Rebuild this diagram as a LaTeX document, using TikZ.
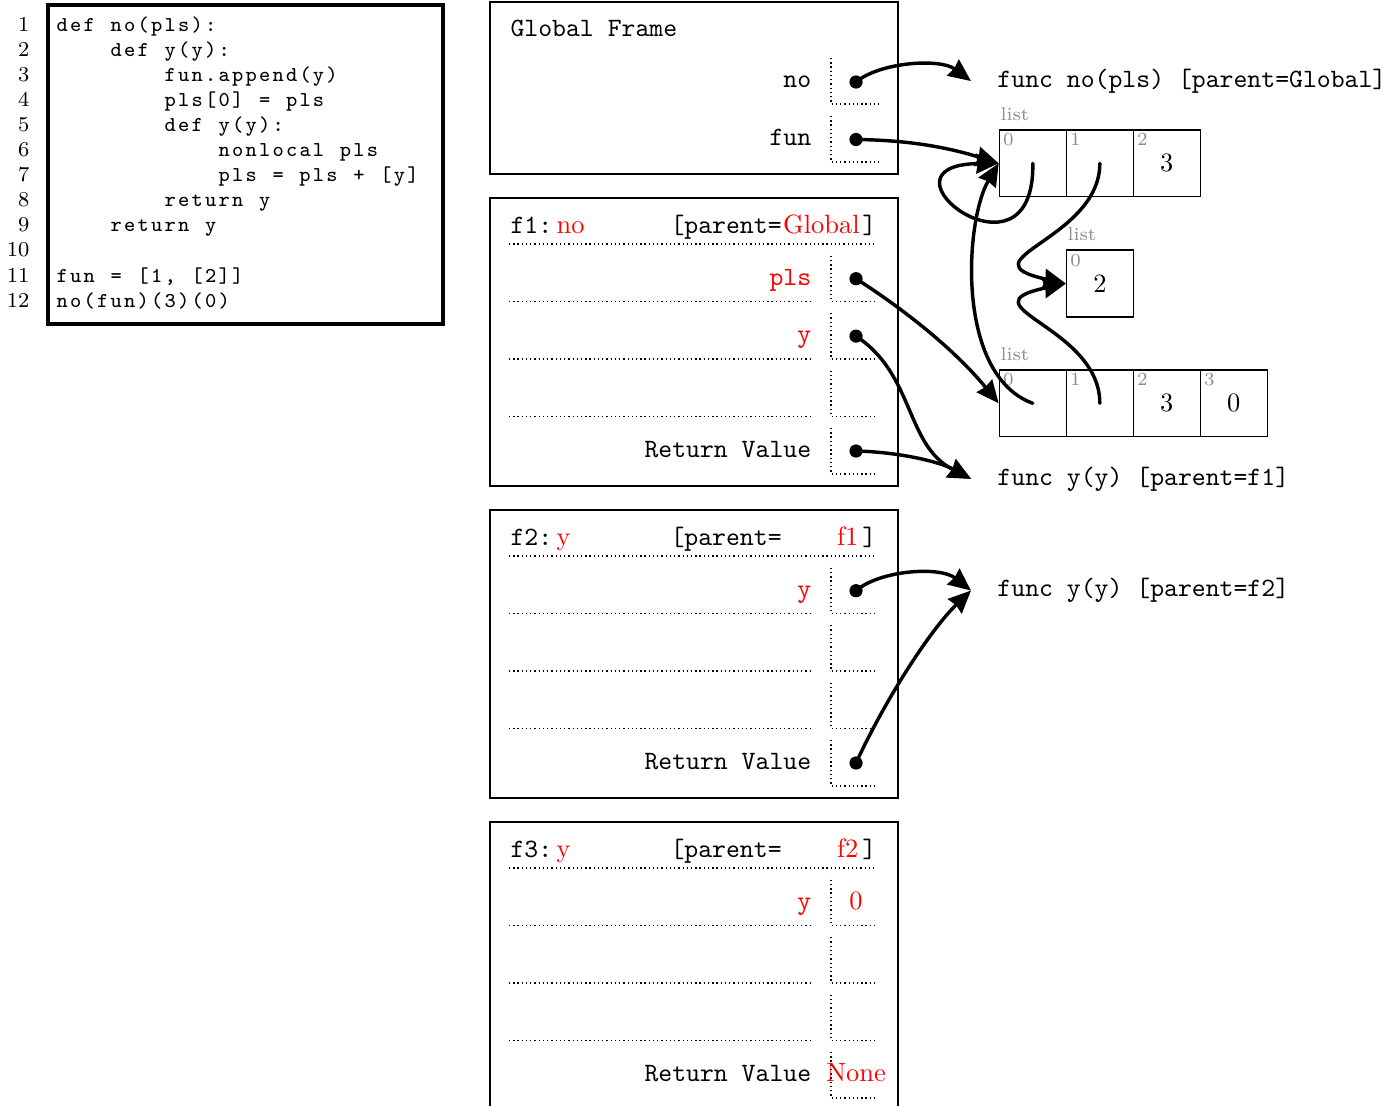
\documentclass[tikz,border=0pt]{standalone}
\usetikzlibrary{arrows.meta}

% fixed-pitch code characters, like a listing with fixed columns
\newcommand\codechars[1]{\codeloop#1\relax}
\def\codeloop#1{\ifx\relax#1\else\makebox[5.1pt]{#1}\expandafter\codeloop\fi}

\definecolor{idxgray}{gray}{0.55}

\tikzset{
  codeline/.style={anchor=base west,inner sep=0pt,font=\fontsize{8}{9.5}\selectfont\ttfamily},
  lineno/.style={anchor=base east,inner sep=0pt,font=\footnotesize},
  framebox/.style={line width=0.5pt},
  frametitle/.style={anchor=base west,inner sep=0pt,font=\ttfamily},
  parentname/.style={anchor=base east,inner sep=0pt,font=\ttfamily},
  varname/.style={anchor=base east,inner sep=0pt,font=\ttfamily},
  varvalue/.style={anchor=base,inner sep=0pt,text=red},
  rowline/.style={dash pattern=on 0.5pt off 1.1pt,line width=0.5pt},
  ptrdot/.style={circle,fill,inner sep=0pt,minimum size=5pt},
  funcobj/.style={anchor=base west,inner xsep=9.8pt,inner ysep=0pt,font=\ttfamily},
  cell/.style={draw,line width=0.5pt,minimum size=25.3pt,inner sep=0pt},
  listlbl/.style={anchor=base west,inner sep=0pt,font=\scriptsize,text=idxgray},
  idx/.style={anchor=north west,inner sep=1.5pt,font=\scriptsize,text=idxgray},
  ptr/.style={line width=1.3pt,line cap=round,-{Stealth[length=8.5pt,width=7.5pt,inset=0.6pt]}},
}

\begin{document}
\begin{tikzpicture}[x=0.378pt,y=-0.378pt]
  \useasboundingbox (0,0) rectangle (1399,1105);
  \clip (0,0) rectangle (1399,1105);

  % source code
  \draw[line width=1.2pt] (48,5) rectangle (443,324);
  \node[lineno] (n1) at (30,31) {1};   \node[codeline] (c1) at (55,31) {\codechars{def~no(pls):}};
  \node[lineno] (n2) at (30,56.1) {2}; \node[codeline] (c2) at (55,56.1) {\codechars{~~~~def~y(y):}};
  \node[lineno] (n3) at (30,81.2) {3}; \node[codeline] (c3) at (55,81.2) {\codechars{~~~~~~~~fun.append(y)}};
  \node[lineno] (n4) at (30,106.3) {4}; \node[codeline] (c4) at (55,106.3) {\codechars{~~~~~~~~pls[0]~=~pls}};
  \node[lineno] (n5) at (30,131.4) {5}; \node[codeline] (c5) at (55,131.4) {\codechars{~~~~~~~~def~y(y):}};
  \node[lineno] (n6) at (30,156.5) {6}; \node[codeline] (c6) at (55,156.5) {\codechars{~~~~~~~~~~~~nonlocal~pls}};
  \node[lineno] (n7) at (30,181.6) {7}; \node[codeline] (c7) at (55,181.6) {\codechars{~~~~~~~~~~~~pls~=~pls~+~[y]}};
  \node[lineno] (n8) at (30,206.7) {8}; \node[codeline] (c8) at (55,206.7) {\codechars{~~~~~~~~return~y}};
  \node[lineno] (n9) at (30,231.8) {9}; \node[codeline] (c9) at (55,231.8) {\codechars{~~~~return~y}};
  \node[lineno] (n10) at (30,256.9) {10};
  \node[lineno] (n11) at (30,282) {11}; \node[codeline] (c11) at (55,282) {\codechars{fun~=~[1,~[2]]}};
  \node[lineno] (n12) at (30,307.1) {12}; \node[codeline] (c12) at (55,307.1) {\codechars{no(fun)(3)(0)}};

  % global frame
  \draw[framebox] (490,2) rectangle (898,174);
  \node[frametitle] (gtitle) at (510,36) {Global Frame};
  \node[varname] (gno) at (811.7,87) {no};
  \node[varname] (gfun) at (811.7,145.5) {fun};
  \draw[rowline] (831,58) -- (831,104) -- (879,104);
  \draw[rowline] (831,116) -- (831,162) -- (879,162);
  \node[ptrdot] (dno) at (856,82) {};
  \node[ptrdot] (dfun) at (856,139.5) {};

  % frame f1
  \draw[framebox] (490,198) rectangle (898,486);
  \node[frametitle] (f1title) at (510,233) {f1:\,{\rmfamily\color{red}no}};
  \node[frametitle] (f1par) at (670,233) {[parent=};
  \node[parentname] (f1pname) at (876.7,233) {{\rmfamily\color{red}Global}\kern1pt]};
  \draw[rowline] (509,244) -- (877,244);
  \draw[rowline] (509,301.7) -- (811,301.7);
  \draw[rowline] (509,359.1) -- (811,359.1);
  \draw[rowline] (509,416.6) -- (811,416.6);
  \draw[rowline] (831,255.7) -- (831,301.7) -- (878,301.7);
  \draw[rowline] (831,313.1) -- (831,359.1) -- (878,359.1);
  \draw[rowline] (831,370.6) -- (831,416.6) -- (878,416.6);
  \draw[rowline] (831,428) -- (831,474) -- (878,474);
  \node[varname,text=red] (f1pls) at (811.7,285.2) {pls};
  \node[varname,text=red] (f1y) at (811.7,342.6) {y};
  \node[varname] (f1ret) at (811.7,457.5) {Return Value};
  \node[ptrdot] (d1pls) at (856,278.7) {};
  \node[ptrdot] (d1y) at (856,336.1) {};
  \node[ptrdot] (d1ret) at (856,451) {};

  % frame f2
  \draw[framebox] (490,510) rectangle (898,798);
  \node[frametitle] (f2title) at (510,545) {f2:\,{\rmfamily\color{red}y}};
  \node[frametitle] (f2par) at (670,545) {[parent=};
  \node[parentname] (f2pname) at (876.7,545) {{\rmfamily\color{red}f1}\kern1.5pt]};
  \draw[rowline] (509,556) -- (877,556);
  \draw[rowline] (509,613.7) -- (811,613.7);
  \draw[rowline] (509,671.1) -- (811,671.1);
  \draw[rowline] (509,728.6) -- (811,728.6);
  \draw[rowline] (831,567.7) -- (831,613.7) -- (878,613.7);
  \draw[rowline] (831,625.1) -- (831,671.1) -- (878,671.1);
  \draw[rowline] (831,682.6) -- (831,728.6) -- (878,728.6);
  \draw[rowline] (831,740) -- (831,786) -- (878,786);
  \node[varname,text=red] (f2y) at (811.7,597.2) {y};
  \node[varname] (f2ret) at (811.7,769.5) {Return Value};
  \node[ptrdot] (d2y) at (856,590.7) {};
  \node[ptrdot] (d2ret) at (856,763) {};

  % frame f3
  \draw[framebox] (490,822) rectangle (898,1110);
  \node[frametitle] (f3title) at (510,857) {f3:\,{\rmfamily\color{red}y}};
  \node[frametitle] (f3par) at (670,857) {[parent=};
  \node[parentname] (f3pname) at (876.7,857) {{\rmfamily\color{red}f2}\kern1.5pt]};
  \draw[rowline] (509,868) -- (877,868);
  \draw[rowline] (509,925.7) -- (811,925.7);
  \draw[rowline] (509,983.1) -- (811,983.1);
  \draw[rowline] (509,1040.6) -- (811,1040.6);
  \draw[rowline] (831,879.7) -- (831,925.7) -- (878,925.7);
  \draw[rowline] (831,937.1) -- (831,983.1) -- (878,983.1);
  \draw[rowline] (831,994.6) -- (831,1040.6) -- (878,1040.6);
  \draw[rowline] (831,1052) -- (831,1098) -- (878,1098);
  \node[varname,text=red] (f3y) at (811.7,909.2) {y};
  \node[varvalue] (v3y) at (856,909.2) {0};
  \node[varname] (f3ret) at (811.7,1081.5) {Return Value};
  \node[varvalue] (v3ret) at (856,1081.5) {None};

  % objects
  \node[funcobj] (fno) at (971,87.3) {func no(pls) [parent=Global]};
  \node[funcobj] (fy1) at (971,485) {func y(y) [parent=f1]};
  \node[funcobj] (fy2) at (971,596.7) {func y(y) [parent=f2]};

  \node[listlbl] (l1lbl) at (1000,120) {list};
  \node[cell] (l1a) at (1032.8,163.3) {};
  \node[cell] (l1b) at (1099.8,163.3) {};
  \node[cell] (l1c) at (1166.8,163.3) {3};
  \node[idx] (l1i0) at (l1a.north west) {0};
  \node[idx] (l1i1) at (l1b.north west) {1};
  \node[idx] (l1i2) at (l1c.north west) {2};

  \node[listlbl] (l2lbl) at (1067,240) {list};
  \node[cell] (l2a) at (1100,283.6) {2};
  \node[idx] (l2i0) at (l2a.north west) {0};

  \node[listlbl] (l3lbl) at (1000,360) {list};
  \node[cell] (l3a) at (1032.8,403.3) {};
  \node[cell] (l3b) at (1099.8,403.3) {};
  \node[cell] (l3c) at (1166.8,403.3) {3};
  \node[cell] (l3d) at (1233.8,403.3) {0};
  \node[idx] (l3i0) at (l3a.north west) {0};
  \node[idx] (l3i1) at (l3b.north west) {1};
  \node[idx] (l3i2) at (l3c.north west) {2};
  \node[idx] (l3i3) at (l3d.north west) {3};

  % pointers
  \draw[ptr] (dno.center) .. controls (880,62) and (940,58) .. (fno.west);
  \draw[ptr] (dfun.center) .. controls (910,140) and (950,148) .. (l1a.west);
  \draw[ptr] (l1a.center) .. controls (1035,295) and (865,165) .. (l1a.west);
  \draw[ptr] (l1b.center) .. controls (1100,240) and (960,260) .. (l2a.west);
  \draw[ptr] (l3b.center) .. controls (1100,326) and (960,306) .. (l2a.west);
  \draw[ptr] (l3a.center) .. controls (955,375) and (965,220) .. (l1a.west);
  \draw[ptr] (d1pls.center) .. controls (905,310) and (955,350) .. (l3a.west);
  \draw[ptr] (d1y.center) .. controls (915,375) and (905,445) .. (fy1.west);
  \draw[ptr] (d1ret.center) .. controls (900,452) and (940,462) .. (fy1.west);
  \draw[ptr] (d2y.center) .. controls (880,570) and (940,566) .. (fy2.west);
  \draw[ptr] (d2ret.center) .. controls (885,700) and (930,630) .. (fy2.west);
\end{tikzpicture}
\end{document}
